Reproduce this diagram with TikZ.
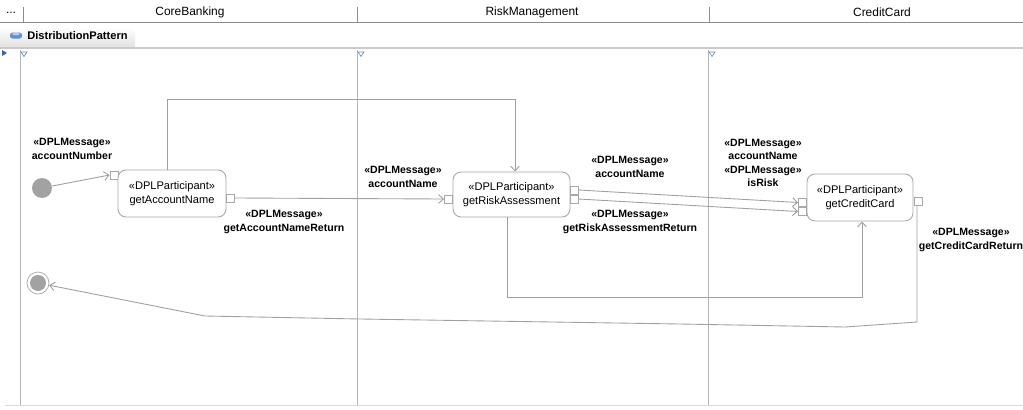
\documentclass[tikz,border=0pt]{standalone}
\usepackage{fontspec}
\setmainfont{Liberation Sans}
\usetikzlibrary{arrows.meta}
\definecolor{conn}{HTML}{A0A0A0}
\definecolor{lane}{HTML}{B4B4B4}
\definecolor{boxc}{HTML}{A8A8A8}
\definecolor{dotfill}{HTML}{A2A2A2}
\definecolor{hdrline}{HTML}{8C8C8C}
\definecolor{tabfill}{HTML}{EDEDED}
\definecolor{sepline}{HTML}{CACACA}
\definecolor{tri}{HTML}{3A64A0}
\definecolor{pill}{HTML}{5E90D8}
\newcommand\msgfont{\fontsize{6pt}{7.6pt}\selectfont\bfseries}
\newcommand\actfont{\fontsize{6.3pt}{7.9pt}\selectfont}
\newcommand\hdrfont{\fontsize{6.8pt}{8pt}\selectfont}
\tikzset{
  actbox/.style={draw=boxc, line width=0.5pt, rounded corners=0.16cm, fill=white, align=center, inner sep=0pt, font=\actfont},
  pin/.style={draw=boxc, line width=0.5pt, fill=white, minimum size=0.16cm, inner sep=0pt},
  msg/.style={align=center, inner sep=0pt, font=\msgfont},
  flow/.style={draw=conn, line width=0.5pt},
  flowarr/.style={flow, -{Straight Barb[length=2.8pt,width=5pt]}},
  lanel/.style={draw=lane, line width=0.5pt},
  hdr/.style={inner sep=0pt, font=\hdrfont}
}
\begin{document}
\begin{tikzpicture}[x=0.02cm,y=-0.02cm]
\useasboundingbox (0,0) rectangle (1023,409);
\fill[white] (0,0) rectangle (1023,409);
% header
\node[hdr] (dots) at (11,13) {...};
\node[hdr] (h1) at (190,12) {CoreBanking};
\node[hdr] (h2) at (532,12) {RiskManagement};
\node[hdr] (h3) at (882,12) {CreditCard};
\draw[hdrline, line width=0.6pt] (0,22.5) -- (1023,22.5);
\foreach \xx in {23,357,709} \draw[hdrline, line width=0.5pt] (\xx,7) -- (\xx,22.5);
% tab
\shade[top color=white, bottom color=tabfill!90!gray] (0,27) -- (129,27) to[out=0,in=90] (135,33) -- (135,47) -- (0,47) -- cycle;
\fill[pill, rounded corners=0.05cm] (10,32.5) rectangle (22,38.5);
\fill[pill!45!white, rounded corners=0.03cm] (12,33) rectangle (20,35);
\node[inner sep=0pt, anchor=west, font=\fontsize{6.3pt}{7pt}\selectfont\bfseries] (tab) at (27,36) {DistributionPattern};
\draw[sepline, line width=0.6pt] (0,48) -- (1023,48);
% lanes
\fill[tri] (2,50) -- (7,53) -- (2,56) -- cycle;
\foreach \xx in {20,357,708} {
  \draw[lanel] (\xx,50) -- (\xx,405);
  \draw[tri!70!white, line width=0.4pt] (\xx+1,52) -- (\xx+7,52) -- (\xx+4,56.5) -- cycle;
}
\draw[sepline!70!white, line width=0.5pt] (5,405) -- (1023,405);
% nodes
\node[circle, fill=dotfill, minimum size=0.4cm, inner sep=0pt] (init) at (42,188) {};
\node[circle, draw=boxc, line width=0.4pt, fill=white, minimum size=0.44cm, inner sep=0pt] (final) at (38,283) {};
\node[circle, fill=dotfill, minimum size=0.32cm, inner sep=0pt] (finalin) at (38,283) {};
\node[pin] (pAin) at (114,175) {};
\node[actbox, minimum width=2.16cm, minimum height=0.94cm] (actA) at (172,193.5) {«DPLParticipant»\\getAccountName};
\node[pin] (pAout) at (230,198) {};
\node[pin] (pBin) at (448.5,199) {};
\node[actbox, minimum width=2.34cm, minimum height=0.9cm] (actB) at (511.5,194.5) {«DPLParticipant»\\getRiskAssessment};
\node[pin] (pBo1) at (574,190) {};
\node[pin] (pBo2) at (574,199) {};
\node[pin] (pCi1) at (802.5,202.5) {};
\node[pin] (pCi2) at (802.5,211.5) {};
\node[actbox, minimum width=2.12cm, minimum height=0.94cm] (actC) at (860,197.5) {«DPLParticipant»\\getCreditCard};
\node[pin] (pCout) at (918,201.5) {};
% labels
\node[msg] (l1) at (72,149) {«DPLMessage»\\accountNumber};
\node[msg] (l2) at (284,222) {«DPLMessage»\\getAccountNameReturn};
\node[msg] (l3) at (403,177) {«DPLMessage»\\accountName};
\node[msg] (l4) at (630,167) {«DPLMessage»\\accountName};
\node[msg] (l5) at (630,222) {«DPLMessage»\\getRiskAssessmentReturn};
\node[msg] (l6) at (763,163) {«DPLMessage»\\accountName\\«DPLMessage»\\isRisk};
\node[msg] (l7) at (971,240) {«DPLMessage»\\getCreditCardReturn};
% bend points
\coordinate (b1) at (167,99);
\coordinate (b2) at (515,99);
\coordinate (b3) at (507,297);
\coordinate (b4) at (862,297);
\coordinate (w1) at (917,322);
\coordinate (w2) at (845,327);
\coordinate (w3) at (680,324);
\coordinate (w4) at (360,319);
\coordinate (w5) at (205,316);
% connectors
\draw[flowarr] (init) -- (pAin.west);
\draw[flowarr] (pAout.east) -- (pBin.west);
\draw[flowarr] (b1 |- actA.north) -- (b1) -- (b2) -- (b2 |- actB.north);
\draw[flowarr] (pBo1.east) -- (pCi1.west);
\draw[flowarr] (pBo2.east) -- (pCi2.west);
\draw[flowarr] (b3 |- actB.south) -- (b3) -- (b4) -- (b4 |- actC.south);
\draw[flowarr] (pCout.south -| w1) -- (w1) -- (w2) -- (w3) -- (w4) -- (w5) -- (final);
\end{tikzpicture}
\end{document}
